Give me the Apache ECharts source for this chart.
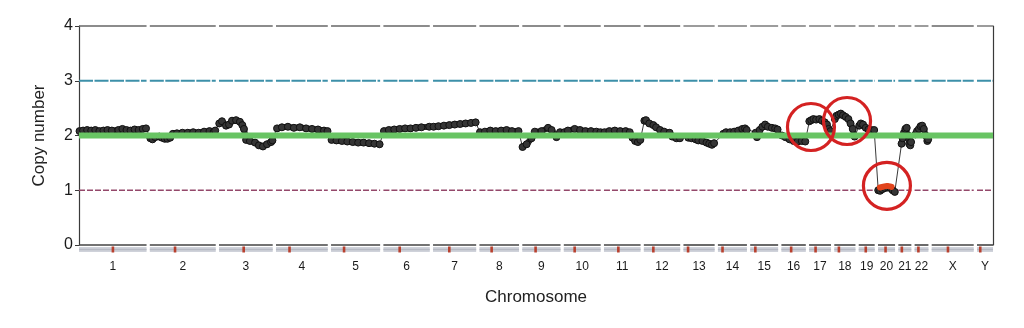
<!DOCTYPE html>
<html>
<head>
<meta charset="utf-8">
<script src="https://cdn.jsdelivr.net/npm/echarts@6/dist/echarts.min.js"></script>
<style>
  html, body { margin: 0; padding: 0; background: #ffffff; }
  #chart { width: 1024px; height: 328px; }
</style>
</head>
<body>
<div id="chart"></div>
<script>
// Genome layout (Mb)
const chromNames = ['1','2','3','4','5','6','7','8','9','10','11','12','13','14','15','16','17','18','19','20','21','22','X','Y'];
const chromLengths = [249,243,198,191,181,171,159,146,141,136,135,134,115,107,103,90,81,78,59,63,48,51,155,59];
const centromeres = [125,93,91,50,48,60,60,45,49,40,53,35,17,17,19,36,24,17,26,28,13,14,60,12];
const chromGap = 12;

// Reference copy-number levels drawn per chromosome
const refLevels = [1, 3, 4];
const normalLevel = 2;
const yTicks = [0, 1, 2, 3, 4];

// Copy-number profile per chromosome: [position within chromosome (Mb), copy number]
const chr1 = [[2,2.08],[15,2.09],[30,2.10],[45,2.09],[60,2.10],[75,2.08],[90,2.09],[105,2.10],[121,2.09],[145,2.10],[160,2.12],[175,2.10],[190,2.09],[205,2.11],[220,2.10],[235,2.12],[247,2.13]];
const chr2 = [[2,1.95],[10,1.93],[20,1.97],[35,1.98],[45,1.96],[55,1.94],[65,1.94],[75,1.96],[85,2.03],[100,2.04],[120,2.05],[140,2.05],[160,2.06],[180,2.05],[200,2.07],[220,2.08],[235,2.06],[241,2.09]];
const chr3 = [[1,2.22],[11,2.26],[26,2.18],[37,2.20],[48,2.27],[63,2.28],[77,2.25],[86,2.19],[92,2.12],[100,1.92],[114,1.90],[133,1.87],[147,1.82],[162,1.80],[177,1.84],[192,1.88],[197,1.91]];
const chr4 = [[4,2.13],[22,2.15],[44,2.16],[66,2.14],[88,2.15],[111,2.13],[133,2.12],[155,2.11],[177,2.09],[190,2.08]];
const chr5 = [[2,1.92],[20,1.91],[40,1.90],[60,1.89],[80,1.88],[100,1.87],[120,1.87],[140,1.86],[160,1.85],[179,1.84]];
const chr6 = [[2,2.08],[20,2.10],[40,2.11],[60,2.12],[80,2.13],[100,2.13],[120,2.14],[140,2.15],[169,2.16]];
const chr7 = [[2,2.16],[20,2.17],[40,2.18],[60,2.19],[80,2.20],[100,2.21],[120,2.22],[140,2.23],[157,2.24]];
const chr8 = [[2,2.06],[20,2.07],[40,2.09],[60,2.08],[80,2.09],[100,2.10],[120,2.08],[144,2.08]];
const chr9 = [[1,1.79],[16,1.84],[34,1.95],[46,2.07],[71,2.08],[95,2.14],[108,2.10],[126,1.97],[139,2.06]];
const chr10 = [[2,2.06],[15,2.09],[40,2.12],[60,2.10],[80,2.08],[100,2.08],[120,2.07],[135,2.06]];
const chr11 = [[2,2.06],[20,2.08],[40,2.09],[60,2.08],[80,2.08],[95,2.06],[105,1.96],[115,1.90],[125,1.88],[134,1.92]];
const chr12 = [[2,2.27],[8,2.28],[20,2.22],[35,2.19],[45,2.15],[60,2.10],[75,2.07],[95,2.05],[105,1.98],[120,1.95],[133,1.95]];
const chr13 = [[18,1.96],[30,1.95],[45,1.93],[55,1.91],[70,1.90],[85,1.87],[95,1.85],[105,1.83],[113,1.86]];
const chr14 = [[20,2.03],[30,2.06],[45,2.06],[60,2.07],[75,2.09],[90,2.12],[100,2.13],[106,2.10]];
const chr15 = [[20,2.05],[25,1.97],[35,2.10],[45,2.16],[55,2.20],[65,2.16],[80,2.14],[92,2.13],[101,2.11]];
const chr16 = [[2,2.00],[15,1.97],[30,1.93],[45,1.90],[60,1.89],[75,1.90],[88,1.89]];
const chr17 = [[1,2.26],[8,2.28],[16,2.30],[26,2.29],[38,2.30],[48,2.27],[58,2.24],[66,2.20],[72,2.12],[79,2.08]];
const chr18 = [[2,2.30],[8,2.36],[16,2.38],[24,2.40],[32,2.37],[42,2.34],[52,2.30],[60,2.22],[68,2.12],[75,1.98]];
const chr19 = [[2,2.18],[8,2.22],[16,2.20],[26,2.14],[36,2.11],[46,2.10],[57,2.10]];
const chr20 = [[1,1.00],[8,0.99],[16,1.02],[26,1.04],[36,1.05],[46,1.04],[54,1.00],[62,0.97]];
const chr21 = [[12,1.85],[16,1.95],[21,2.05],[26,2.12],[31,2.14],[36,2.00],[40,1.85],[44,1.82],[47,1.88]];
const chr22 = [[3,2.02],[9,2.08],[16,2.12],[22,2.17],[28,2.18],[34,2.12],[41,2.00],[47,1.90],[50,1.93]];

// Called single-copy loss on chromosome 20
const chr20Loss = [[7,1.05],[14,1.06],[24,1.07],[34,1.08],[44,1.07],[50,1.06]];

// Highlighted regions: chromosome, position within it (Mb), copy number
const highlightChrom = ['17', '18', '20'];
const highlightPos = [7, 47, 33];
const highlightValue = [2.155, 2.265, 1.08];

const profiles = [chr1, chr2, chr3, chr4, chr5, chr6, chr7, chr8, chr9, chr10, chr11,
  chr12, chr13, chr14, chr15, chr16, chr17, chr18, chr19, chr20, chr21, chr22];

// Cumulative chromosome start positions
const chromStarts = [];
let acc = 0;
chromLengths.forEach((len, i) => {
  chromStarts.push(acc);
  acc += len + (i < chromLengths.length - 1 ? chromGap : 0);
});
const genomeLength = acc;
const chromMids = chromStarts.map((s, i) => s + chromLengths[i] / 2);
const startOf = name => chromStarts[chromNames.indexOf(name)];

// Genome-wide points
const toGenome = (chrIdx, pts) => pts.map(p => [chromStarts[chrIdx] + p[0], p[1]]);
const allPoints = [];
profiles.forEach((pts, i) => allPoints.push(...toGenome(i, pts)));

// Segment rows: [start, end, level]
const segmentRows = level => chromStarts.map((s, i) => [s, s + chromLengths[i], level]);

function segmentSeries(level, color, width, z, dash) {
  return {
    type: 'custom',
    xAxisIndex: 0, yAxisIndex: 0,
    z: z,
    silent: true,
    clip: false,
    encode: { x: [0, 1], y: 2 },
    data: segmentRows(level),
    renderItem: (params, api) => {
      const a = api.coord([api.value(0), api.value(2)]);
      const b = api.coord([api.value(1), api.value(2)]);
      return {
        type: 'line',
        shape: { x1: a[0], y1: a[1], x2: b[0], y2: b[1] },
        style: { stroke: color, lineWidth: width, fill: null, lineDash: dash || null }
      };
    }
  };
}

const series = [];

series.push(segmentSeries(refLevels[2], '#666666', 1.3, 1));
series.push(segmentSeries(refLevels[1], '#3d90a9', 2, 1, [14, 1.5]));
series.push(segmentSeries(refLevels[0], '#94486a', 1.4, 1, [6, 2]));
series.push(segmentSeries(0, '#454545', 1.6, 1));

// Thin line running through the whole profile
series.push({
  type: 'line',
  xAxisIndex: 0, yAxisIndex: 0,
  data: allPoints,
  showSymbol: false,
  silent: true,
  z: 2,
  lineStyle: { color: '#3a3a3a', width: 1 }
});

// Thick smoothed bands per chromosome
profiles.forEach((pts, i) => {
  series.push({
    type: 'line',
    xAxisIndex: 0, yAxisIndex: 0,
    data: toGenome(i, pts),
    symbol: 'circle',
    symbolSize: 7,
    showSymbol: true,
    silent: true,
    z: 3,
    lineStyle: { color: '#2b2b2b', width: 6, cap: 'round', join: 'round' },
    itemStyle: { color: '#353535', borderColor: '#111111', borderWidth: 1, opacity: 1 }
  });
});

// Normal diploid level
series.push({
  type: 'line',
  xAxisIndex: 0, yAxisIndex: 0,
  data: [[0, normalLevel], [genomeLength, normalLevel]],
  showSymbol: false,
  silent: true,
  z: 5,
  lineStyle: { color: '#68c463', width: 6 }
});

// Loss call overlay
series.push({
  type: 'line',
  xAxisIndex: 0, yAxisIndex: 0,
  data: chr20Loss.map(p => [startOf('20') + p[0], p[1]]),
  showSymbol: false,
  silent: true,
  z: 6,
  lineStyle: { color: '#e2441c', width: 6, cap: 'round' }
});

// Highlight circles
series.push({
  type: 'scatter',
  xAxisIndex: 0, yAxisIndex: 0,
  data: highlightChrom.map((c, i) => [startOf(c) + highlightPos[i], highlightValue[i]]),
  symbol: 'circle',
  symbolSize: 47,
  silent: true,
  clip: false,
  z: 7,
  itemStyle: { color: 'rgba(0,0,0,0)', borderColor: '#d42222', borderWidth: 3.2, opacity: 1 }
});

// Chromosome ideograms
series.push({
  type: 'custom',
  xAxisIndex: 1, yAxisIndex: 2,
  silent: true,
  clip: false,
  encode: { x: [0, 1, 2], y: 3 },
  data: chromStarts.map((s, i) => [s, s + chromLengths[i], s + centromeres[i], 1]),
  renderItem: (params, api) => {
    const a = api.coord([api.value(0), 1]);
    const b = api.coord([api.value(1), 0]);
    const c = api.coord([api.value(2), 1]);
    const h = b[1] - a[1];
    return {
      type: 'group',
      children: [
        { type: 'rect', shape: { x: a[0], y: a[1], width: b[0] - a[0], height: h },
          style: { fill: '#cfd2da' } },
        { type: 'rect', shape: { x: a[0], y: a[1] + h * 0.35, width: b[0] - a[0], height: h * 0.3 },
          style: { fill: '#b7bac4' } },
        { type: 'rect', shape: { x: c[0] - 1.3, y: a[1] - 0.5, width: 2.6, height: h + 1 },
          style: { fill: '#b8402e' } }
      ]
    };
  }
});

const chart = echarts.init(document.getElementById('chart'), null, { renderer: 'canvas' });
chart.setOption({
  animation: false,
  backgroundColor: '#ffffff',
  textStyle: { fontFamily: 'Liberation Sans, Arial, sans-serif' },
  grid: [
    { left: 79, right: 31, top: 26, height: 219 },
    { left: 79, right: 31, top: 247, height: 5 }
  ],
  xAxis: [
    { gridIndex: 0, type: 'value', min: 0, max: genomeLength, show: false },
    {
      gridIndex: 1, type: 'value', min: 0, max: genomeLength,
      axisLine: { show: false },
      axisTick: { show: false },
      splitLine: { show: false },
      axisLabel: {
        customValues: chromMids,
        formatter: v => {
          const i = chromMids.findIndex(m => Math.abs(m - v) < 1);
          return i >= 0 ? chromNames[i] : '';
        },
        fontSize: 12,
        color: '#1a1a1a',
        margin: 9
      },
      name: 'Chromosome',
      nameLocation: 'middle',
      nameGap: 37,
      nameTextStyle: { fontSize: 17, color: '#222' }
    }
  ],
  yAxis: [
    {
      gridIndex: 0, type: 'value', min: 0, max: 4, interval: 1,
      axisLine: { show: true, lineStyle: { color: '#3a3a3a', width: 1.2 } },
      axisTick: { show: true, length: 4, lineStyle: { color: '#3a3a3a' } },
      axisLabel: { fontSize: 16, color: '#1a1a1a', margin: 6, customValues: yTicks },
      splitLine: { show: false },
      name: 'Copy number',
      nameLocation: 'middle',
      nameGap: 31,
      nameRotate: 90,
      nameTextStyle: { fontSize: 17, color: '#222' }
    },
    {
      gridIndex: 0, type: 'value', min: 0, max: 4, position: 'right',
      axisLine: { show: true, lineStyle: { color: '#3a3a3a', width: 1.2 } },
      axisTick: { show: false },
      axisLabel: { show: false },
      splitLine: { show: false }
    },
    { gridIndex: 1, type: 'value', min: 0, max: 1, show: false }
  ],
  series: series
});
</script>
</body>
</html>
